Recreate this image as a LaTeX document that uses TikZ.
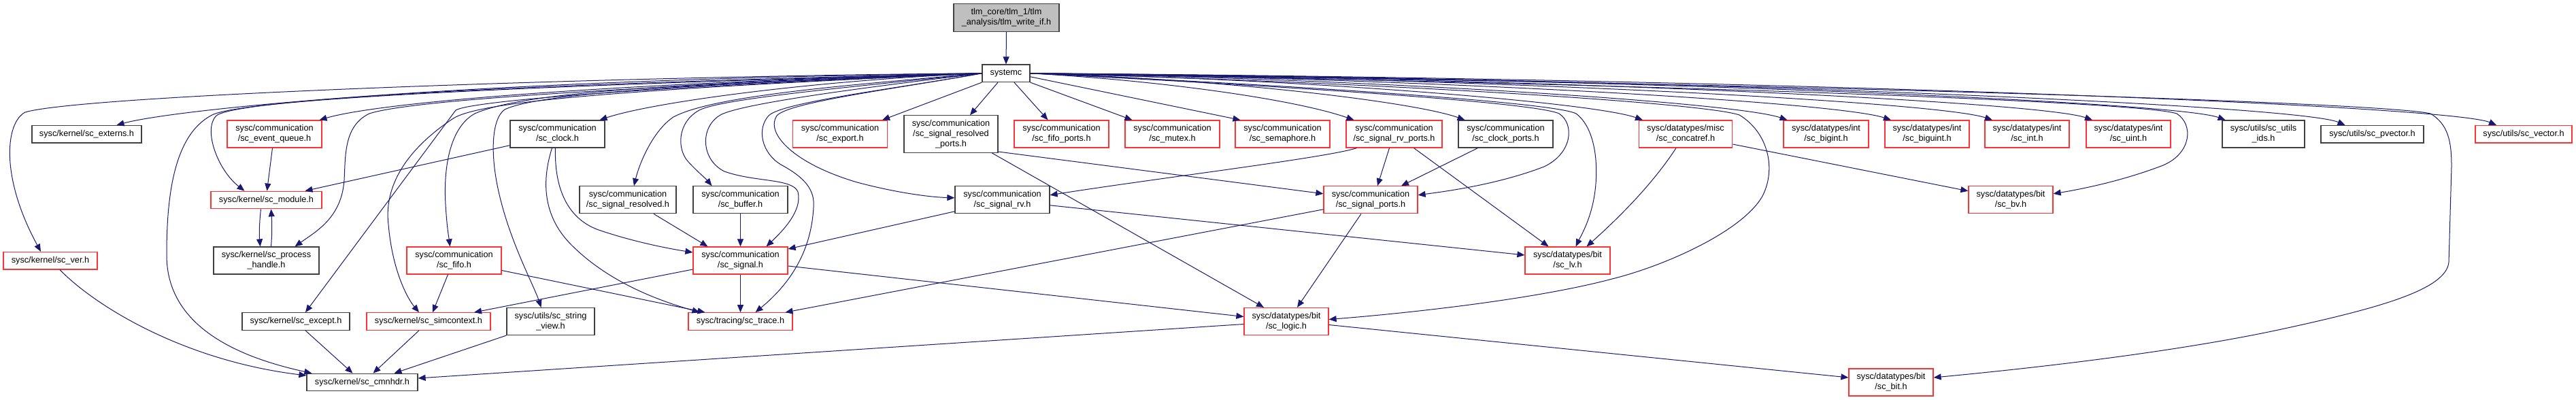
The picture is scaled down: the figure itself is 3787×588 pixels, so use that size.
\documentclass[tikz,border=0pt]{standalone}
\usepackage{fontspec}
\setmainfont{Liberation Sans}
\usetikzlibrary{arrows.meta}
\definecolor{edgeblue}{RGB}{25,25,112}
\definecolor{redline}{RGB}{255,51,51}
\definecolor{darkline}{RGB}{64,64,64}
\definecolor{rootfill}{RGB}{191,191,191}
\begin{document}
\begin{tikzpicture}[x=1bp,y=-1bp,
  box/.style={rectangle, inner sep=0pt, line width=1.2bp, align=center, font=\fontsize{12.7bp}{15bp}\selectfont, text=black, minimum height=40bp},
  nb/.style={box, draw=darkline},
  nr/.style={box, draw=redline},
  ng/.style={box, draw=darkline, fill=rootfill},
  one/.style={minimum height=25.5bp},
  ln/.style={draw=edgeblue, line width=1bp, -{Triangle[length=11bp,width=9bp]}}
]
\fill[white] (0,0) rectangle (3787,588);
\useasboundingbox (0,0) rectangle (3787,588);

% nodes
\node[ng, minimum width=155bp, minimum height=40.5bp] (root) at (1479.5,25.9) {tlm\_core/tlm\_1/tlm\\\_analysis/tlm\_write\_if.h};
\node[nb, one, minimum width=70bp] (systemc) at (1479,107.8) {systemc};

\node[nb, one, minimum width=161bp] (externs) at (127.5,197.2) {sysc/kernel/sc\_externs.h};
\node[nr, minimum width=139bp] (evq) at (403.5,197) {sysc/communication\\/sc\_event\_queue.h};
\node[nb, minimum width=139bp] (clock) at (819.5,197) {sysc/communication\\/sc\_clock.h};
\node[nr, minimum width=139bp] (export) at (1235,197) {sysc/communication\\/sc\_export.h};
\node[nb, minimum width=138bp, minimum height=54.3bp] (srp) at (1398,197) {sysc/communication\\/sc\_signal\_resolved\\\_ports.h};
\node[nr, minimum width=139bp] (fifop) at (1560.5,197) {sysc/communication\\/sc\_fifo\_ports.h};
\node[nr, minimum width=139bp] (mutex) at (1723.5,197) {sysc/communication\\/sc\_mutex.h};
\node[nr, minimum width=139bp] (sema) at (1885.5,197) {sysc/communication\\/sc\_semaphore.h};
\node[nr, minimum width=141bp] (srvp) at (2049.5,197) {sysc/communication\\/sc\_signal\_rv\_ports.h};
\node[nb, minimum width=139bp] (clkp) at (2213.5,197) {sysc/communication\\/sc\_clock\_ports.h};
\node[nr, minimum width=137.5bp] (concat) at (2478,197) {sysc/datatypes/misc\\/sc\_concatref.h};
\node[nr, minimum width=125bp] (bigint) at (2684.5,197) {sysc/datatypes/int\\/sc\_bigint.h};
\node[nr, minimum width=124bp] (biguint) at (2833,197) {sysc/datatypes/int\\/sc\_biguint.h};
\node[nr, minimum width=124bp] (int) at (2980,197) {sysc/datatypes/int\\/sc\_int.h};
\node[nr, minimum width=124bp] (uint) at (3129,197) {sysc/datatypes/int\\/sc\_uint.h};
\node[nb, minimum width=121bp] (ids) at (3327.5,197) {sysc/utils/sc\_utils\\\_ids.h};
\node[nb, one, minimum width=151bp] (pvec) at (3487.5,197.2) {sysc/utils/sc\_pvector.h};
\node[nr, one, minimum width=142bp] (vec) at (3710,197.2) {sysc/utils/sc\_vector.h};

\node[nr, one, minimum width=163bp] (module) at (391.5,294) {sysc/kernel/sc\_module.h};
\node[nb, minimum width=142bp] (sres) at (923,293.8) {sysc/communication\\/sc\_signal\_resolved.h};
\node[nb, minimum width=139bp] (buffer) at (1088.5,293.8) {sysc/communication\\/sc\_buffer.h};
\node[nb, minimum width=139bp] (srv) at (1473.5,293.8) {sysc/communication\\/sc\_signal\_rv.h};
\node[nr, minimum width=138bp] (sports) at (2015,293.8) {sysc/communication\\/sc\_signal\_ports.h};
\node[nr, minimum width=124bp] (bv) at (2956,293.8) {sysc/datatypes/bit\\/sc\_bv.h};

\node[nr, one, minimum width=138bp] (ver) at (74,383.2) {sysc/kernel/sc\_ver.h};
\node[nb, minimum width=155bp] (ph) at (391.5,383) {sysc/kernel/sc\_process\\\_handle.h};
\node[nr, minimum width=139bp] (fifo) at (667.5,383) {sysc/communication\\/sc\_fifo.h};
\node[nr, minimum width=139bp] (signal) at (1088.5,383) {sysc/communication\\/sc\_signal.h};
\node[nr, minimum width=125bp] (lv) at (2304.5,383) {sysc/datatypes/bit\\/sc\_lv.h};

\node[nb, one, minimum width=158bp] (except) at (435,472.5) {sysc/kernel/sc\_except.h};
\node[nr, one, minimum width=182bp] (simctx) at (630,472.5) {sysc/kernel/sc\_simcontext.h};
\node[nb, minimum width=129bp] (sv) at (809.5,472.5) {sysc/utils/sc\_string\\\_view.h};
\node[nr, one, minimum width=153bp] (trace) at (1088.5,472.5) {sysc/tracing/sc\_trace.h};
\node[nr, minimum width=124bp] (logic) at (1891,472.5) {sysc/datatypes/bit\\/sc\_logic.h};

\node[nb, one, minimum width=163bp] (cmnhdr) at (532.5,562) {sysc/kernel/sc\_cmnhdr.h};
\node[nr, minimum width=124bp] (bit) at (2780,562) {sysc/datatypes/bit\\/sc\_bit.h};

% edges
\draw[ln] (root.south) -- (systemc.north);

% systemc to the left
\draw[ln] (systemc.west) .. controls (900,112) and (120,140) .. (37,165) .. controls (8,180) and (0,260) .. ([xshift=-14bp]ver.north);
\draw[ln] (systemc.west) .. controls (700,116) and (260,160) .. ([xshift=44bp]externs.north);
\draw[ln] (systemc.west) .. controls (900,122) and (560,150) .. ([xshift=66bp]evq.north);
\draw[ln] (systemc.west) .. controls (800,122) and (350,145) .. (318,170) .. controls (298,190) and (320,250) .. ([xshift=-32bp]module.north);
\draw[ln] (systemc.west) .. controls (800,125) and (350,145) .. (310,170) .. controls (255,200) and (245,290) .. (245,375) .. controls (245,480) and (350,525) .. ([xshift=8bp]cmnhdr.north west);
\draw[ln] (systemc.west) .. controls (900,128) and (600,148) .. (543,167) .. controls (505,185) and (508,230) .. (506,265) .. controls (502,320) and (465,340) .. ([xshift=42bp]ph.north);
\draw[ln] (systemc.west) .. controls (900,130) and (690,150) .. (670,162) -- ([xshift=14bp]except.north);
\draw[ln] (systemc.west) .. controls (900,132) and (700,150) .. (665,175) .. controls (590,225) and (565,280) .. (571,330) .. controls (577,400) and (600,440) .. ([xshift=-14bp]simctx.north);
\draw[ln] (systemc.west) .. controls (1200,118) and (960,150) .. ([xshift=62bp]clock.north);
\draw[ln] (systemc.west) .. controls (1000,122) and (770,135) .. (698,167) .. controls (660,188) and (652,250) .. (655,300) .. controls (657,335) and (660,350) .. ([xshift=-6bp]fifo.north);
\draw[ln] (systemc.west) .. controls (1000,124) and (790,138) .. (742,161) .. controls (722,175) and (720,230) .. (735,290) .. controls (752,360) and (785,420) .. ([xshift=-14bp]sv.north);
\draw[ln] (systemc.west) .. controls (1250,125) and (1050,140) .. (990,172) .. controls (960,192) and (940,240) .. ([xshift=9bp]sres.north);
\draw[ln] (systemc.west) .. controls (1250,128) and (1060,145) .. (1028,162) .. controls (995,180) and (995,220) .. (1012,238) .. controls (1025,252) and (1038,263) .. ([xshift=-42bp]buffer.north);
\draw[ln] (systemc.west) .. controls (1300,125) and (1100,150) .. (1061,168) .. controls (1028,185) and (1030,235) .. (1065,252) .. controls (1110,268) and (1165,262) .. (1173,282) .. controls (1180,310) and (1150,340) .. ([xshift=38bp]signal.north);
\draw[ln] (systemc.west) .. controls (1320,130) and (1150,150) .. (1130,170) .. controls (1112,190) and (1120,225) .. (1148,242) .. controls (1185,262) and (1198,280) .. (1196,305) .. controls (1193,360) and (1170,410) .. ([xshift=22bp]trace.north);
\draw[ln] (systemc.west) .. controls (1320,130) and (1160,150) .. (1142,170) .. controls (1125,195) and (1165,240) .. (1260,268) .. controls (1320,284) and (1370,290) .. ([yshift=3bp]srv.west);
\draw[ln] (systemc.south west) -- ([xshift=62bp]export.north);

% systemc to the top row
\draw[ln] ([xshift=-12bp]systemc.south) -- ([xshift=28bp]srp.north);
\draw[ln] ([xshift=12bp]systemc.south) -- ([xshift=-20bp]fifop.north);
\draw[ln] (systemc.south east) -- ([xshift=-59bp]mutex.north);
\draw[ln] ([yshift=-5bp]systemc.east) -- ([xshift=-62bp]sema.north);
\draw[ln] (systemc.east) .. controls (1700,118) and (1900,145) .. ([xshift=-59bp]srvp.north);
\draw[ln] (systemc.east) .. controls (1800,116) and (2080,150) .. ([xshift=-60bp]clkp.north);
\draw[ln] (systemc.east) .. controls (1900,115) and (2340,150) .. ([xshift=-63bp]concat.north);
\draw[ln] (systemc.east) .. controls (2000,115) and (2550,150) .. ([xshift=-57bp]bigint.north);
\draw[ln] (systemc.east) .. controls (2100,115) and (2700,150) .. ([xshift=-53bp]biguint.north);
\draw[ln] (systemc.east) .. controls (2200,115) and (2850,150) .. ([xshift=-51bp]int.north);
\draw[ln] (systemc.east) .. controls (2300,115) and (3000,150) .. ([xshift=-53bp]uint.north);
\draw[ln] (systemc.east) .. controls (2400,115) and (3200,150) .. ([xshift=-56bp]ids.north);
\draw[ln] (systemc.east) .. controls (2500,115) and (3380,155) .. ([xshift=-40bp]pvec.north);
\draw[ln] (systemc.east) .. controls (2600,115) and (3600,155) .. ([xshift=-40bp]vec.north);

% systemc long curves to the right
\draw[ln] (systemc.east) .. controls (1800,122) and (2250,148) .. (2292,167) .. controls (2315,182) and (2312,225) .. (2270,245) .. controls (2200,272) and (2120,282) .. ([yshift=7bp]sports.east);
\draw[ln] (systemc.east) .. controls (1800,120) and (2280,148) .. (2317,167) .. controls (2345,188) and (2350,240) .. (2345,280) .. controls (2340,320) and (2325,345) .. ([xshift=12bp]lv.north);
\draw[ln] (systemc.east) .. controls (2000,120) and (2500,150) .. (2557,169) .. controls (2600,195) and (2612,250) .. (2590,290) .. controls (2560,340) and (2450,390) .. (2370,410) .. controls (2250,442) and (2050,462) .. ([yshift=3bp]logic.east);
\draw[ln] (systemc.east) .. controls (2500,125) and (3150,150) .. (3200,167) .. controls (3225,183) and (3222,225) .. (3180,243) .. controls (3120,266) and (3060,278) .. ([yshift=9bp]bv.east);
\draw[ln] (systemc.east) .. controls (2600,122) and (3500,150) .. (3573,167) .. controls (3600,183) and (3604,210) .. (3604,245) -- (3600,385) .. controls (3597,425) and (3500,452) .. (3363,482) .. controls (3200,518) and (2980,542) .. ([yshift=7bp]bit.east);

% other edges
\draw[ln] ([xshift=14bp]ver.south) .. controls (140,450) and (270,530) .. ([yshift=10bp]cmnhdr.west);
\draw[ln] ([xshift=-3bp]evq.south) -- ([xshift=1bp]module.north);
\draw[ln] ([xshift=-8bp]module.south) .. controls (381,330) and (381,345) .. ([xshift=-9bp]ph.north);
\draw[ln] ([xshift=7bp]ph.north) .. controls (400,345) and (400,330) .. ([xshift=7bp]module.south);
\draw[ln] ([yshift=-16.7bp]clock.west) -- ([xshift=57bp]module.north);
\draw[ln] ([xshift=-3bp]clock.south) .. controls (815,270) and (830,320) .. (880,338) .. controls (930,355) and (980,365) .. ([yshift=12bp]signal.west);
\draw[ln] ([xshift=-8bp]clock.south) .. controls (795,270) and (800,320) .. (840,360) .. controls (900,420) and (980,445) .. ([xshift=-60bp]trace.north);
\draw[ln] ([xshift=38bp]sres.south) -- ([xshift=-48bp]signal.north);
\draw[ln] (buffer.south) -- (signal.north);
\draw[ln] ([xshift=-9bp]fifo.south) -- ([xshift=6bp]simctx.north);
\draw[ln] ([yshift=-14.5bp]fifo.east) -- ([xshift=-52bp]trace.north);
\draw[ln] (sv.south west) -- ([xshift=47bp]cmnhdr.north);
\draw[ln] ([xshift=14bp]except.south) -- ([xshift=-14bp]cmnhdr.north);
\draw[ln] ([xshift=-14bp]simctx.south) -- ([xshift=16bp]cmnhdr.north);
\draw[ln] ([yshift=-4bp]logic.west) -- ([yshift=6bp]cmnhdr.east);
\draw[ln] ([yshift=-13bp]signal.west) -- ([xshift=67bp]simctx.north);
\draw[ln] (signal.south) -- (trace.north);
\draw[ln] ([yshift=-8bp]signal.east) -- ([yshift=7bp]logic.west);
\draw[ln] ([yshift=-17bp]srv.west) -- ([yshift=17bp]signal.east);
\draw[ln] ([yshift=-8bp]srv.east) -- ([yshift=8bp]lv.west);
\draw[ln] ([yshift=-26bp]srp.east) -- ([yshift=9bp]sports.west);
\draw[ln] ([xshift=60bp]srp.south) -- ([xshift=-33bp]logic.north);
\draw[ln] ([xshift=-55bp]srvp.south) .. controls (1950,232) and (1700,262) .. ([yshift=7bp]srv.east);
\draw[ln] ([xshift=-7bp]srvp.south) -- ([xshift=10bp]sports.north);
\draw[ln] ([xshift=29bp]srvp.south) -- ([xshift=-28bp]lv.north);
\draw[ln] ([xshift=-41bp]clkp.south) -- ([xshift=45bp]sports.north);
\draw[ln] ([yshift=-14bp]sports.west) -- ([xshift=66bp]trace.north);
\draw[ln] ([xshift=-14bp]sports.south) -- ([xshift=16bp]logic.north);
\draw[ln] ([xshift=-14bp]concat.south) .. controls (2430,270) and (2380,320) .. ([xshift=28bp]lv.north);
\draw[ln] ([yshift=-15bp]concat.east) -- ([yshift=13bp]bv.west);
\draw[ln] ([yshift=-5bp]logic.east) -- ([yshift=7bp]bit.west);
\end{tikzpicture}
\end{document}
